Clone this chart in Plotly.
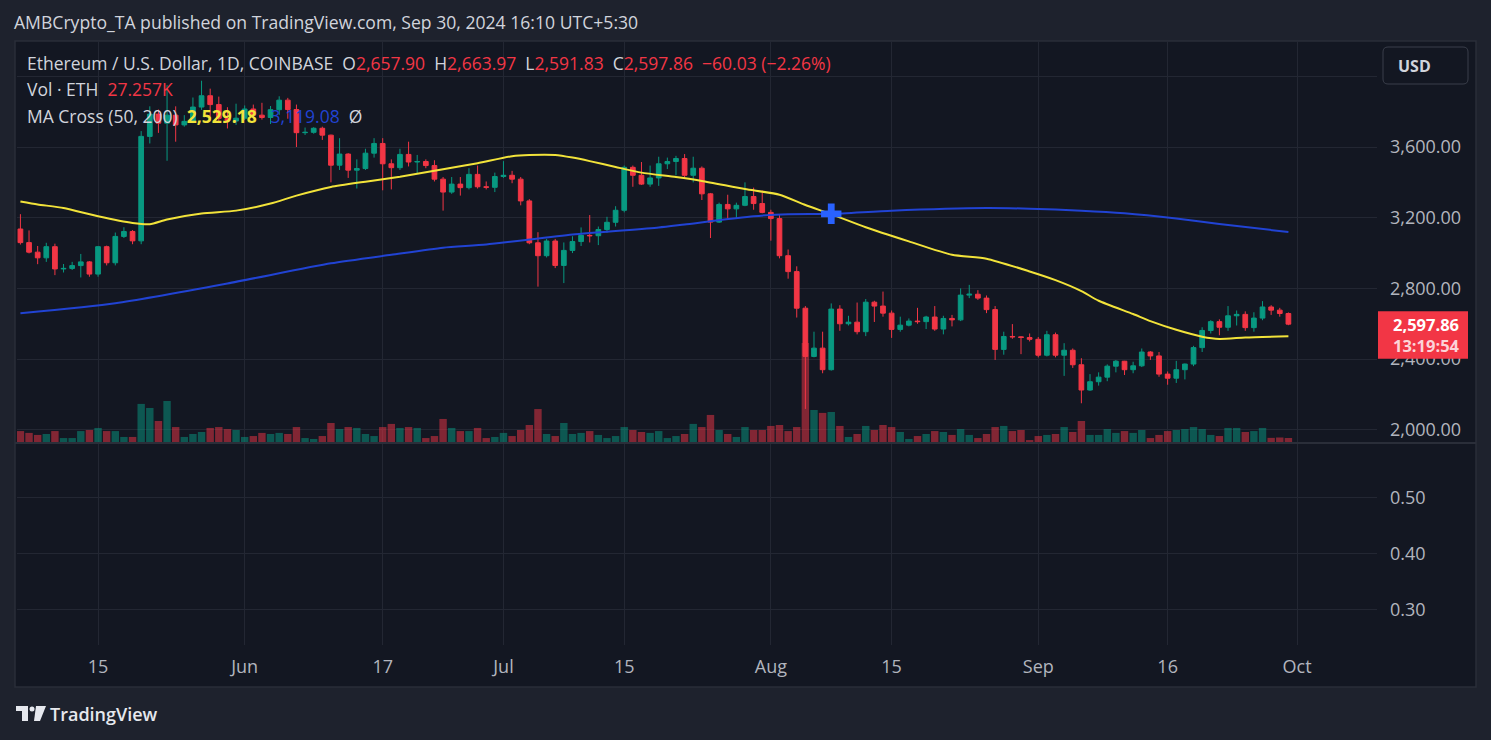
import plotly.graph_objects as go
import pandas as pd

W, H = 1491, 740

# ---------------- data ----------------
dates = pd.date_range("2024-05-06", "2024-09-30", freq="D")

opens = [
    3136, 3059, 3005, 2973, 3036, 2910, 2913, 2929, 2950, 2881, 3036, 2945, 3094, 3122, 3069, 3660, 3786, 3735, 3780, 3725, 3745, 3826, 3890, 3840, 3762, 3747,
    3763, 3815, 3780, 3767, 3811, 3865, 3812, 3681, 3683, 3706, 3667, 3497, 3560, 3469, 3478, 3565, 3620, 3505, 3483, 3558, 3515, 3518, 3495, 3418, 3345, 3390, 3370, 3445, 3375, 3372,
    3433, 3440, 3418, 3295, 3058, 2985, 3068, 2930, 3015, 3065, 3100, 3098, 3133, 3174, 3242, 3485, 3440, 3390, 3425, 3505, 3518, 3535, 3440, 3480, 3335, 3175, 3275, 3250, 3270, 3320, 3280,
    3230, 3195, 2985, 2895, 2688, 2415, 2462, 2340, 2683, 2600, 2609, 2555, 2722, 2700, 2660, 2568, 2592, 2615, 2612, 2638, 2570, 2630, 2622, 2762, 2767, 2745, 2680, 2455, 2528, 2526, 2522,
    2512, 2422, 2538, 2422, 2450, 2368, 2225, 2272, 2298, 2360, 2388, 2340, 2362, 2440, 2418, 2315, 2292, 2340, 2372, 2465, 2562, 2612, 2580, 2645, 2653, 2578, 2632, 2695, 2677, 2657.90,
]
highs = [
    3220, 3128, 3040, 3058, 3053, 2938, 2950, 2995, 2955, 3040, 3042, 3116, 3146, 3130, 3690, 3830, 3812, 3950, 3830, 3780, 3880, 3975, 3930, 3885, 3825, 3845,
    3835, 3840, 3850, 3832, 3887, 3878, 3840, 3710, 3712, 3715, 3670, 3650, 3565, 3530, 3590, 3650, 3650, 3530, 3590, 3630, 3555, 3530, 3525, 3430, 3430, 3430, 3480, 3495, 3405, 3455,
    3520, 3465, 3430, 3305, 3118, 3080, 3080, 3060, 3095, 3145, 3215, 3150, 3205, 3265, 3495, 3495, 3515, 3495, 3545, 3540, 3550, 3560, 3545, 3490, 3340, 3285, 3330, 3285, 3400, 3370, 3355,
    3245, 3215, 3020, 2925, 2700, 2555, 2555, 2715, 2705, 2645, 2720, 2740, 2730, 2782, 2675, 2640, 2630, 2690, 2645, 2700, 2645, 2650, 2800, 2820, 2790, 2760, 2700, 2555, 2598, 2530, 2545,
    2525, 2560, 2550, 2490, 2460, 2405, 2315, 2325, 2370, 2395, 2390, 2385, 2460, 2445, 2440, 2330, 2390, 2375, 2475, 2580, 2620, 2625, 2700, 2675, 2670, 2665, 2728, 2705, 2690, 2663.97,
]
lows = [
    3048, 2998, 2937, 2950, 2875, 2890, 2904, 2862, 2866, 2866, 2930, 2930, 3085, 3050, 3050, 3620, 3680, 3522, 3630, 3715, 3735, 3810, 3775, 3740, 3705, 3725,
    3752, 3755, 3755, 3730, 3782, 3760, 3600, 3668, 3675, 3640, 3400, 3470, 3425, 3365, 3470, 3540, 3355, 3360, 3470, 3490, 3450, 3480, 3405, 3240, 3335, 3325, 3360, 3365, 3360, 3345,
    3425, 3395, 3270, 3050, 2810, 2975, 2915, 2830, 3000, 3040, 3060, 3045, 3115, 3150, 3230, 3375, 3385, 3375, 3380, 3475, 3440, 3420, 3400, 3300, 3085, 3170, 3195, 3195, 3265, 3245, 3225,
    3070, 2970, 2855, 2635, 2118, 2410, 2320, 2335, 2560, 2590, 2540, 2530, 2610, 2640, 2520, 2555, 2585, 2600, 2570, 2560, 2540, 2585, 2615, 2745, 2735, 2660, 2395, 2425, 2515, 2428, 2500,
    2410, 2415, 2410, 2305, 2350, 2150, 2220, 2250, 2275, 2325, 2310, 2320, 2355, 2395, 2300, 2255, 2265, 2285, 2360, 2440, 2545, 2535, 2560, 2590, 2560, 2555, 2620, 2650, 2640, 2591.83,
]
closes = [
    3059, 3005, 2973, 3036, 2910, 2913, 2929, 2950, 2881, 3036, 2945, 3094, 3122, 3069, 3660, 3786, 3735, 3780, 3725, 3745, 3826, 3890, 3840, 3762, 3747, 3763,
    3815, 3780, 3767, 3811, 3865, 3812, 3681, 3683, 3706, 3667, 3497, 3560, 3469, 3478, 3565, 3620, 3505, 3483, 3558, 3515, 3518, 3495, 3418, 3345, 3390, 3370, 3445, 3375, 3372, 3433,
    3440, 3418, 3295, 3058, 2985, 3068, 2930, 3015, 3065, 3100, 3098, 3133, 3174, 3242, 3485, 3440, 3390, 3425, 3505, 3518, 3535, 3440, 3480, 3335, 3175, 3275, 3250, 3270, 3320, 3280, 3230,
    3195, 2985, 2895, 2688, 2415, 2462, 2340, 2683, 2600, 2609, 2555, 2722, 2700, 2660, 2568, 2592, 2615, 2612, 2638, 2570, 2630, 2622, 2762, 2767, 2745, 2680, 2455, 2528, 2526, 2522, 2512,
    2422, 2538, 2422, 2450, 2368, 2225, 2272, 2298, 2360, 2388, 2340, 2362, 2440, 2418, 2315, 2292, 2340, 2372, 2465, 2562, 2612, 2580, 2645, 2653, 2578, 2632, 2695, 2677, 2657.89, 2597.86,
]
volumes_k = [
    65, 55, 44, 49, 65, 27, 27, 65, 71, 82, 65, 65, 33, 33, 213, 191, 120, 229, 87, 33, 49, 60, 82, 87, 76, 71,
    33, 38, 55, 49, 55, 49, 87, 27, 22, 38, 109, 76, 87, 82, 49, 38, 87, 104, 82, 87, 82, 27, 38, 131, 82, 65, 65, 82, 27, 33,
    55, 38, 71, 98, 185, 49, 38, 109, 49, 55, 65, 44, 27, 38, 87, 71, 60, 55, 65, 27, 38, 49, 104, 87, 153, 71, 49, 33, 87, 71, 71,
    93, 98, 65, 87, 545, 180, 164, 169, 93, 33, 49, 93, 71, 98, 87, 60, 22, 38, 49, 65, 60, 44, 76, 44, 27, 49, 87, 93, 65, 71, 16,
    38, 44, 49, 87, 60, 120, 44, 44, 76, 55, 65, 55, 71, 27, 44, 65, 71, 76, 87, 76, 44, 38, 82, 82, 60, 65, 82, 28, 30, 27.257,
]

ma50_dates = ["2024-05-06", "2024-05-08", "2024-05-11", "2024-05-15", "2024-05-19", "2024-05-21", "2024-05-23",
              "2024-05-27", "2024-05-31", "2024-06-04", "2024-06-07", "2024-06-11", "2024-06-15", "2024-06-19",
              "2024-06-24", "2024-06-28", "2024-07-02", "2024-07-04", "2024-07-07", "2024-07-09", "2024-07-11",
              "2024-07-14", "2024-07-17", "2024-07-21", "2024-07-24", "2024-07-29", "2024-08-02", "2024-08-05",
              "2024-08-08", "2024-08-12", "2024-08-17", "2024-08-22", "2024-08-26", "2024-08-31", "2024-09-03",
              "2024-09-06", "2024-09-08", "2024-09-12", "2024-09-14", "2024-09-17", "2024-09-20", "2024-09-22",
              "2024-09-25", "2024-09-30"]
ma50_vals = [3292, 3275, 3255, 3208, 3170, 3163, 3190,
             3224, 3240, 3280, 3325, 3374, 3404, 3432,
             3474, 3508, 3548, 3555, 3555, 3540, 3520,
             3487, 3455, 3430, 3408, 3362, 3330, 3272,
             3220, 3146, 3066, 2990, 2968, 2896, 2847,
             2785, 2730, 2655, 2615, 2566, 2527, 2514,
             2522, 2529.18]

ma200_dates = ["2024-05-06", "2024-05-17", "2024-05-30", "2024-06-11", "2024-06-18", "2024-06-24", "2024-06-29",
               "2024-07-09", "2024-07-19", "2024-07-22", "2024-07-30", "2024-08-03", "2024-08-08", "2024-08-15",
               "2024-08-26", "2024-08-31", "2024-09-06", "2024-09-11", "2024-09-17", "2024-09-22", "2024-09-30"]
ma200_vals = [2659, 2716, 2828, 2942, 2990, 3030, 3048,
              3105, 3145, 3162, 3208, 3220, 3222, 3240,
              3255, 3251, 3240, 3225, 3195, 3164, 3119.08]

cross_date = ["2024-08-08"]
cross_price = [3222]

tick_dates = ["2024-05-15", "2024-06-01", "2024-06-17", "2024-07-01", "2024-07-15",
              "2024-08-01", "2024-08-15", "2024-09-01", "2024-09-16", "2024-10-01"]
tick_labels = ["15", "Jun", "17", "Jul", "15", "Aug", "15", "Sep", "16", "Oct"]
price_ticks = [2000, 2400, 2800, 3200, 3600, 4000]
lower_ticks = [0.30, 0.40, 0.50]
countdown = "13:19:54"

# ---------------- style ----------------
OUTER = "#1e222d"
BG = "#131722"
BORDER = "#2a2e39"
GRID = "#232733"
TXT = "#b2b5be"
TITLE_TXT = "#d1d4dc"
UP = "#089981"
DN = "#f23645"
FONT = "Open Sans"


def px(x):
    return x / W


def py(y):
    return 1 - y / H


x_dom = [px(17), px(1377)]
price_dom = [py(443), py(41)]
lower_dom = [py(645), py(443)]

vol_colors = ["rgba(8,153,129,0.5)" if c >= o else "rgba(242,54,69,0.5)" for o, c in zip(opens, closes)]

fig = go.Figure()

# volume (base axis, drawn underneath)
fig.add_trace(go.Bar(x=dates, y=volumes_k, marker=dict(color=vol_colors, line=dict(width=0)),
                     width=0.86 * 86400000, xaxis="x", yaxis="y", showlegend=False, hoverinfo="skip"))

# moving averages on price axis
fig.add_trace(go.Scatter(x=ma200_dates, y=ma200_vals, mode="lines",
                         line=dict(color="#2143d3", width=2, shape="spline", smoothing=0.6),
                         xaxis="x", yaxis="y3", showlegend=False, hoverinfo="skip"))
fig.add_trace(go.Scatter(x=ma50_dates, y=ma50_vals, mode="lines",
                         line=dict(color="#f2e33a", width=2, shape="spline", smoothing=0.6),
                         xaxis="x", yaxis="y3", showlegend=False, hoverinfo="skip"))

# candles
fig.add_trace(go.Candlestick(x=dates, open=opens, high=highs, low=lows, close=closes,
                             increasing=dict(line=dict(color=UP, width=1), fillcolor=UP),
                             decreasing=dict(line=dict(color=DN, width=1), fillcolor=DN),
                             whiskerwidth=0, xaxis="x", yaxis="y3", showlegend=False, hoverinfo="skip"))

# cross marker
fig.add_trace(go.Scatter(x=cross_date, y=cross_price, mode="markers",
                         marker=dict(symbol="cross", size=17, color="#2962ff", line=dict(width=0)),
                         xaxis="x", yaxis="y3", showlegend=False, hoverinfo="skip"))

# empty lower pane
fig.add_trace(go.Scatter(x=[], y=[], xaxis="x2", yaxis="y2", showlegend=False))

x_range = ["2024-05-05 14:30", "2024-10-10 06:30"]

axis_font = dict(family=FONT, size=18, color=TXT)

fig.update_layout(
    width=W, height=H, autosize=False,
    margin=dict(l=0, r=0, t=0, b=0),
    paper_bgcolor=OUTER, plot_bgcolor="rgba(0,0,0,0)",
    boxgap=0.22,
    xaxis=dict(domain=x_dom, anchor="y", type="date", range=x_range, tickvals=tick_dates,
               showticklabels=False, showgrid=True, gridcolor=GRID, gridwidth=1, zeroline=False,
               showline=False, ticks="", rangeslider=dict(visible=False), fixedrange=True),
    xaxis2=dict(domain=x_dom, anchor="y2", type="date", range=x_range, matches="x", tickvals=tick_dates,
                ticktext=tick_labels, showgrid=True, gridcolor=GRID, gridwidth=1, zeroline=False,
                showline=False, ticks="", tickfont=axis_font, ticklabelstandoff=9),
    yaxis=dict(domain=price_dom, anchor="x", range=[0, 2191], visible=False, showgrid=False, fixedrange=True),
    yaxis3=dict(domain=price_dom, anchor="x", overlaying="y", side="right", range=[1925.3, 4199.7],
                tickvals=price_ticks, ticktext=[f"{v:,.2f}" if v < 4000 else "" for v in price_ticks],
                showgrid=True, gridcolor=GRID, gridwidth=1, zeroline=False, showline=False, ticks="",
                tickfont=axis_font, ticklabelstandoff=12),
    yaxis2=dict(domain=lower_dom, anchor="x2", side="right", range=[0.2375, 0.598],
                tickvals=lower_ticks, ticktext=[f"{v:.2f}" for v in lower_ticks],
                showgrid=True, gridcolor=GRID, gridwidth=1, zeroline=False, showline=False, ticks="",
                tickfont=axis_font, ticklabelstandoff=12),
)

shapes = []
# chart frame
shapes.append(dict(type="rect", xref="paper", yref="paper", x0=px(15), x1=px(1476), y0=py(687), y1=py(41),
                   fillcolor=BG, line=dict(color=BORDER, width=1.5), layer="below"))
# pane separator
shapes.append(dict(type="line", xref="paper", yref="paper", x0=px(15), x1=px(1476), y0=py(443), y1=py(443),
                   line=dict(color=BORDER, width=2), layer="above"))
# USD button (rounded)
x0b, x1b, y0b, y1b, r = 1383, 1468, 47, 84, 5
path = (f"M {px(x0b + r)} {py(y0b)} L {px(x1b - r)} {py(y0b)} Q {px(x1b)} {py(y0b)} {px(x1b)} {py(y0b + r)} "
        f"L {px(x1b)} {py(y1b - r)} Q {px(x1b)} {py(y1b)} {px(x1b - r)} {py(y1b)} "
        f"L {px(x0b + r)} {py(y1b)} Q {px(x0b)} {py(y1b)} {px(x0b)} {py(y1b - r)} "
        f"L {px(x0b)} {py(y0b + r)} Q {px(x0b)} {py(y0b)} {px(x0b + r)} {py(y0b)} Z")
shapes.append(dict(type="path", xref="paper", yref="paper", path=path, fillcolor=BG,
                   line=dict(color="#3a3e4a", width=1), layer="above"))
# last price box
last_close = closes[-1]
shapes.append(dict(type="rect", xref="paper", yref="y3", ysizemode="pixel", yanchor=last_close,
                   x0=px(1378), x1=px(1468), y0=-34.5, y1=13, fillcolor=DN, line=dict(width=0), layer="above"))
# TradingView logo
logo_col = "#e6e8ee"
shapes.append(dict(type="rect", xref="paper", yref="paper", x0=px(16), x1=px(28), y0=py(711), y1=py(706),
                   fillcolor=logo_col, line=dict(width=0), layer="above"))
shapes.append(dict(type="rect", xref="paper", yref="paper", x0=px(22), x1=px(28), y0=py(721), y1=py(706),
                   fillcolor=logo_col, line=dict(width=0), layer="above"))
shapes.append(dict(type="circle", xref="paper", yref="paper", x0=px(29.5), x1=px(34.5), y0=py(711.5), y1=py(706.5),
                   fillcolor=logo_col, line=dict(width=0), layer="above"))
shapes.append(dict(type="path", xref="paper", yref="paper",
                   path=f"M {px(36)} {py(706)} L {px(46)} {py(706)} L {px(40)} {py(721)} L {px(34)} {py(721)} Z",
                   fillcolor=logo_col, line=dict(width=0), layer="above"))

annotations = []


def ann(text, x, y, size, color, xanchor="left", weight=None, yanchor="middle", **kw):
    f = dict(family=FONT, size=size, color=color)
    if weight:
        f["weight"] = weight
    annotations.append(dict(text=text, x=x, y=y, xref=kw.pop("xref", "paper"), yref=kw.pop("yref", "paper"),
                            xanchor=xanchor, yanchor=yanchor, showarrow=False, font=f, **kw))


NB = "\u00a0"
ann("AMBCrypto_TA published on TradingView.com, Sep 30, 2024 16:10 UTC+5:30", px(12), py(22), 17.6, TITLE_TXT)

chg = closes[-1] - closes[-2]
chg_pct = chg / closes[-2] * 100
red = DN
line1 = (f"Ethereum / U.S. Dollar, 1D, COINBASE{NB}{NB}"
         f"O<span style='color:{red}'>{opens[-1]:,.2f}</span>{NB}{NB}"
         f"H<span style='color:{red}'>{highs[-1]:,.2f}</span>{NB}{NB}"
         f"L<span style='color:{red}'>{lows[-1]:,.2f}</span>{NB}{NB}"
         f"C<span style='color:{red}'>{closes[-1]:,.2f}{NB}{NB}\u2212{abs(chg):.2f} (\u2212{abs(chg_pct):.2f}%)</span>")
ann(line1, px(25), py(63), 17.5, TITLE_TXT)
ann(f"Vol · ETH{NB}{NB}<span style='color:{red}'>{volumes_k[-1]:.3f}K</span>", px(25), py(89), 17.5, TITLE_TXT)
ann(f"MA Cross (50, 200){NB}{NB}<span style='color:#f2e33a'><b>{ma50_vals[-1]:,.2f}</b></span>{NB}{NB}{NB}"
    f"<span style='color:#2143d3'>{ma200_vals[-1]:,.2f}</span>{NB}{NB}Ø", px(25), py(116), 17.5, TITLE_TXT)

ann("<b>USD</b>", px(1396), py(66), 16, TITLE_TXT)
ann(f"<b>{last_close:,.2f}</b><br><span style='color:#fcd4d8'><b>{countdown}</b></span>",
    px(1462), last_close, 16.5, "#ffffff", xanchor="right", yanchor="top", yref="y3", yshift=13,
    align="right")
ann("TradingView", px(48), py(714), 18, "#e6e8ee", weight=600)

fig.update_layout(shapes=shapes, annotations=annotations)

fig.write_html("out.html", config={"displayModeBar": False},
               post_script="document.body.style.margin='0';document.body.style.background='#1e222d';")
